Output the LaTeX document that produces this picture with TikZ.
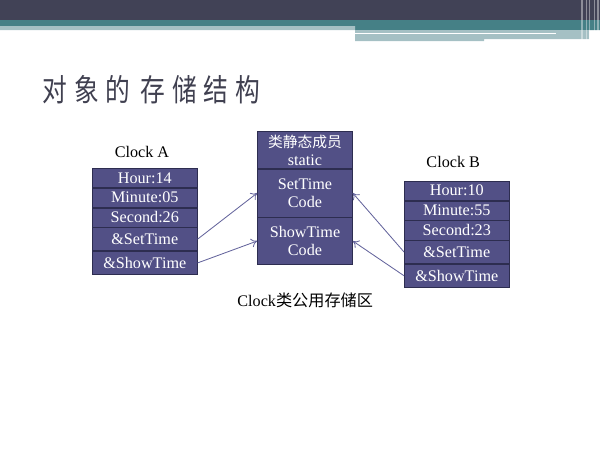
\documentclass[tikz,border=0pt]{standalone}
\usepackage{fontspec}
\setmainfont{Liberation Serif}
\newfontfamily\cjk{Noto Sans CJK SC}
\newfontfamily\cjktitle[FakeStretch=0.8]{Noto Sans CJK SC}
\usepackage{xcolor}
\definecolor{slidedark}{RGB}{65,66,86}
\definecolor{slideteal}{RGB}{69,128,134}
\definecolor{slidelight}{RGB}{165,192,196}
\definecolor{titlegray}{RGB}{64,64,80}
\definecolor{cellfill}{RGB}{82,80,134}
\definecolor{cellline}{RGB}{45,45,80}
\definecolor{linkcol}{RGB}{100,100,156}
\usetikzlibrary{positioning,arrows.meta}
\tikzset{
  cell/.style  ={rectangle,draw=cellline,fill=cellfill,text=white,inner sep=0pt,
                 align=center,minimum width=2.625cm,font=\fontsize{11.5}{13}\selectfont},
  slot/.style  ={cell,minimum height=0.48cm},
  ptr/.style   ={cell,minimum height=0.58cm},
  code/.style  ={cell,minimum width=2.375cm},
  boxname/.style={font=\fontsize{11.5}{13}\selectfont},
  link/.style  ={-{To[length=1.5mm,width=2.2mm]},draw=linkcol,semithick},
}

\begin{document}
\begin{tikzpicture}
  \useasboundingbox (0,0) rectangle (15,-11.25);
  % slide header
  \fill[slidedark] (0,0) rectangle (15,-0.5);
  \fill[slideteal] (0,-0.5) rectangle (15,-0.65) (8.875,-0.65) rectangle (15,-0.75);
  \fill[slidelight] (0,-0.65) rectangle (8.875,-0.75) (8.875,-0.75) rectangle (12.1,-1.025)
    (12.1,-0.75) rectangle (14.725,-0.975);
  \draw[white,line width=0.6pt] (8.875,-0.8375) -- (13.9,-0.8375);
  \foreach \x in {14.55,14.66,14.74,14.86,14.95}{\draw[white,opacity=0.4,line width=0.8pt] (\x,0) -- (\x,-1.0);}
  \node[anchor=west,inner sep=0pt,text=titlegray,font=\cjktitle\fontsize{22}{24}\selectfont] (title) at (1.05,-2.25)
    {对\hspace{5pt}象\hspace{5pt}的\hspace{7pt}存\hspace{5pt}储\hspace{5pt}结\hspace{5pt}构};

  % Clock A
  \node[slot,anchor=north west] (a1) at (2.3,-4.2) {Hour:14};
  \node[slot,below=0pt of a1] (a2) {Minute:05};
  \node[slot,below=0pt of a2] (a3) {Second:26};
  \node[ptr,below=0pt of a3] (a4) {\&SetTime};
  \node[ptr,below=0pt of a4] (a5) {\&ShowTime};
  \node[boxname] (clockA) at (3.55,-3.8) {Clock A};

  % shared static area
  \node[code,anchor=north west,minimum height=0.93cm] (s1) at (6.43,-3.28)
    {{\cjk\fontsize{10.5}{12}\selectfont 类静态成员}\\static};
  \node[code,minimum height=1.19cm,below=0pt of s1] (s2) {SetTime\\Code};
  \node[code,minimum height=1.18cm,below=0pt of s2] (s3) {ShowTime\\Code};

  % Clock B
  \node[slot,anchor=north west] (b1) at (10.1,-4.52) {Hour:10};
  \node[slot,below=0pt of b1] (b2) {Minute:55};
  \node[slot,below=0pt of b2] (b3) {Second:23};
  \node[ptr,below=0pt of b3] (b4) {\&SetTime};
  \node[ptr,below=0pt of b4] (b5) {\&ShowTime};
  \node[boxname] (clockB) at (11.33,-4.05) {Clock B};

  \node[boxname] (shared) at (7.63,-7.5) {Clock{\cjk 类公用存储区}};

  \foreach \f/\t in {a4/s2,a5/s3}{\draw[link] (\f.east) -- (\t.west);}
  \foreach \f/\t in {b4/s2,b5/s3}{\draw[link] (\f.west) -- (\t.east);}
\end{tikzpicture}
\end{document}
